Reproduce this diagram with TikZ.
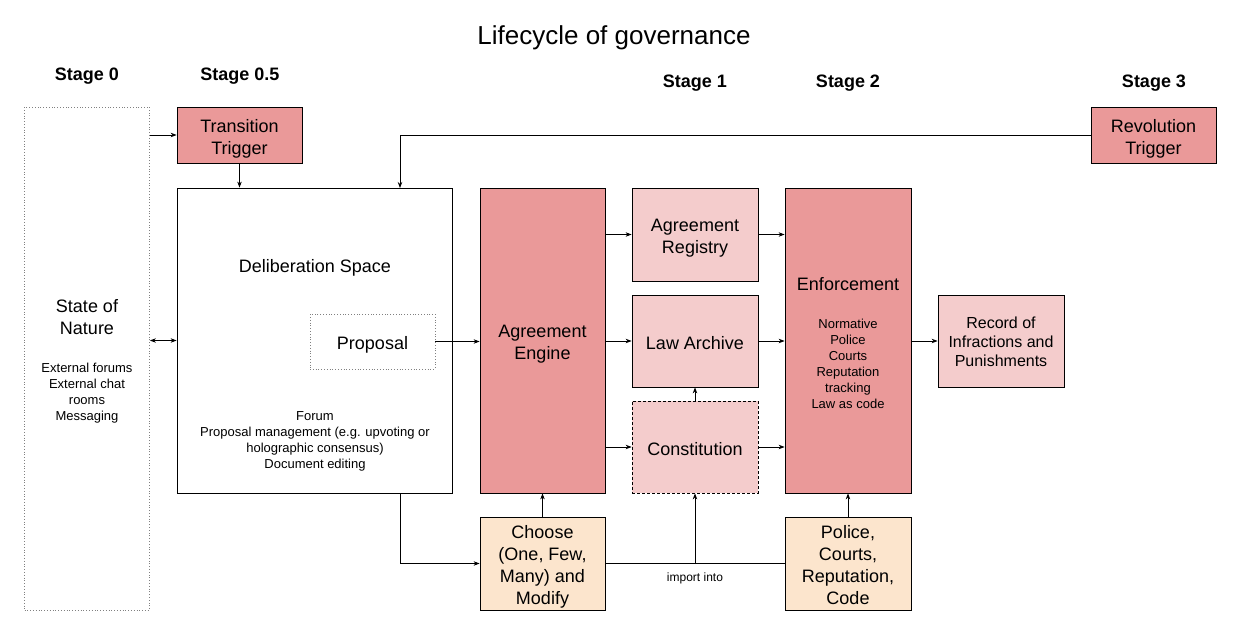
\documentclass[tikz,border=0pt]{standalone}
\usepackage{fontspec}
\setmainfont{Liberation Sans}
\usetikzlibrary{positioning,arrows.meta}
\definecolor{redmid}{HTML}{EA9999}
\definecolor{redlight}{HTML}{F4CCCC}
\definecolor{orangelight}{HTML}{FCE5CD}
\newcommand{\bigtext}{\fontsize{18}{22}\selectfont}
\newcommand{\midtext}{\fontsize{16}{19}\selectfont}
\newcommand{\smalltext}{\fontsize{13}{16}\selectfont}
% lines of a box label, set a bit low as in the drawing
\newcommand{\drop}[2][3.8pt]{\raisebox{0pt}[\dimexpr\height+#1\relax][\dimexpr\depth-#1\relax]{\begin{tabular}{@{}c@{}}#2\end{tabular}}}
\tikzset{
  box/.style={draw, line width=0.8pt, rectangle, inner sep=0pt, font=\bigtext},
  hotbox/.style={box, fill=redmid},
  softbox/.style={box, fill=redlight},
  choicebox/.style={box, fill=orangelight},
  stagelabel/.style={font=\bigtext\bfseries},
}
\begin{document}
\begin{tikzpicture}[x=1pt, y=-1pt]
        \useasboundingbox (0,0) rectangle (1243,634);
        \node (Title) at (614,38) {\fontsize{26}{30}\selectfont Lifecycle of governance};
        \begin{scope}[every node/.style={stagelabel}]
            \node (Stage0) at (87,76) {Stage 0};
            \node (Stage05) at (240,76) {Stage 0.5};
            \node (Stage1) at (695,83) {Stage 1};
            \node (Stage2) at (848,83) {Stage 2};
            \node (Stage3) at (1154,83) {Stage 3};
        \end{scope}
        \begin{scope}[every node/.style={minimum width=125pt}]
            \node[box, draw=gray, dotted, minimum height=503pt] (Nature) at (87,358.5) {};
            \node[hotbox, minimum height=56pt] (Transition) at (239.5,135) {\drop{Transition\\Trigger}};
            \node[box, minimum width=275pt, minimum height=305pt] (Deliberation) at (314.5,340.5) {};
            \node[box, draw=gray, dotted, minimum height=55pt] (Proposal) at (372.5,341.5) {\drop{Proposal}};
            \node[hotbox, minimum height=56pt] (Revolution) at (1153.5,135) {\drop{Revolution\\Trigger}};
            \node[hotbox, minimum height=305pt] (Engine) at (542.5,340.5) {\drop{Agreement\\Engine}};
            \node[softbox, minimum width=126pt, minimum height=93pt] (Registry) at (695,234.5) {\drop{Agreement\\Registry}};
            \node[softbox, minimum width=126pt, minimum height=92pt] (Archive) at (695,341) {\drop{Law Archive}};
            \node[softbox, dash pattern=on 3pt off 2pt, minimum width=126pt, minimum height=92pt] (Constitution) at (695,447) {\drop{Constitution}};
            \node[hotbox, minimum width=126pt, minimum height=305pt] (Enforcement) at (848,340.5) {};
            \node[softbox, font=\midtext, minimum width=126pt, minimum height=92pt] (Record) at (1001,341) {\drop[2.2pt]{Record of\\Infractions and\\Punishments}};
            \node[choicebox, minimum height=93pt] (Choose) at (542.5,563.5) {\drop{Choose\\(One, Few,\\Many) and\\Modify}};
            \node[choicebox, minimum width=126pt, minimum height=93pt] (Police) at (848,563.5) {\drop{Police,\\Courts,\\Reputation,\\Code}};
        \end{scope}
        \begin{scope}[every node/.style={align=center, inner sep=0pt}]
            \node[font=\bigtext] (NatureTitle) at (87,317) {State of\\Nature};
            \node[font=\smalltext] (NatureList) at (87,393) {External forums\\External chat\\rooms\\Messaging};
            \node[font=\bigtext] (DelibTitle) at (315,268) {Deliberation Space};
            \node[font=\smalltext] (DelibList) at (315,441) {Forum\\Proposal management (e.g. upvoting or\\holographic consensus)\\Document editing};
            \node[font=\bigtext] (EnfTitle) at (848,284) {Enforcement};
            \node[font=\smalltext] (EnfList) at (848,364) {Normative\\Police\\Courts\\Reputation\\tracking\\Law as code};
        \end{scope}
        \coordinate (RevIn) at (400,188);
        \coordinate (DelibOut) at (400,493);
        \coordinate (Split) at (695,564);
        \begin{scope}[every path/.style={line width=0.8pt, ->, >={Stealth[length=6pt,width=4.5pt]}}]
            \path (Transition.west -| Nature.east) edge (Transition.west);
            \path (Transition.south) edge (Transition.south |- Deliberation.north);
            \draw (Revolution.west) -| (RevIn);
            \path (Nature.east |- Deliberation.west) edge[<->] (Deliberation.west);
            \path (Proposal.east) edge (Engine.west |- Proposal.east);
            \path (Engine.east |- Registry.west) edge (Registry.west);
            \path (Engine.east |- Archive.west) edge (Archive.west);
            \path (Engine.east |- Constitution.west) edge (Constitution.west);
            \path (Constitution.north) edge (Archive.south);
            \path (Registry.east) edge (Enforcement.west |- Registry.east);
            \path (Archive.east) edge (Enforcement.west |- Archive.east);
            \path (Constitution.east) edge (Enforcement.west |- Constitution.east);
            \path (Enforcement.east |- Record.west) edge (Record.west);
            \path (Choose.north) edge (Engine.south);
            \path (Police.north) edge (Enforcement.south);
            \draw (DelibOut) |- (Choose.west);
            \draw[-] (Choose.east) -- (Police.west);
            \path (Split) edge (Constitution.south);
        \end{scope}
        \node[font=\fontsize{12}{14}\selectfont] (Import) at (695,578) {import into};
    \end{tikzpicture}
\end{document}
